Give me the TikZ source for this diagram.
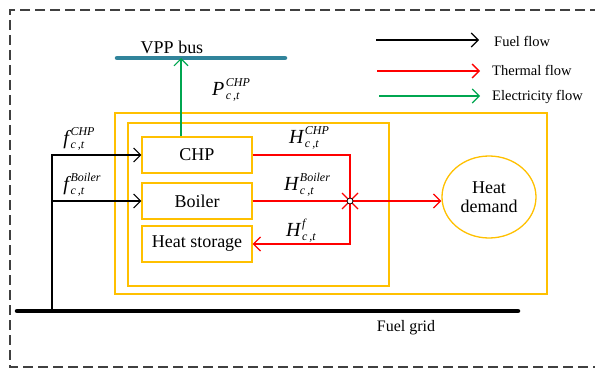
\documentclass[tikz,border=0pt]{standalone}
\usepackage{fontspec}
\setmainfont{Liberation Serif}
\usetikzlibrary{arrows.meta,shapes.geometric}
\definecolor{unityellow}{RGB}{255,192,0}
\definecolor{busteal}{RGB}{49,132,155}
\definecolor{elecgreen}{RGB}{0,166,80}
% variable with stacked sub- and superscript
\newcommand{\varlbl}[3]{\itshape #1\kern1.5pt\raisebox{-4pt}{\fontsize{12}{12}\selectfont
    \begin{tabular}[b]{@{}l@{}}#3\\[1pt]#2\end{tabular}}}
\begin{document}
\begin{tikzpicture}[
    x=1pt, y=-1pt,
    unit/.style={
        rectangle,
        minimum width=110pt,
        minimum height=36pt,
        inner sep=0pt,
        draw=unityellow,
        line width=1.3pt,
        font=\fontsize{18}{20}\selectfont
    },
    fuel/.style={draw=black, line width=1.1pt, -{Straight Barb[length=7pt,width=14pt]}},
    heat/.style={draw=red, line width=1.3pt, -{Straight Barb[length=7pt,width=14pt]}},
    elec/.style={draw=elecgreen, line width=1.1pt, -{Straight Barb[length=7pt,width=14pt]}},
    lbl/.style={font=\fontsize{18}{20}\selectfont, inner sep=0pt},
    varl/.style={font=\fontsize{20}{22}\selectfont, inner sep=0pt},
    legtext/.style={anchor=west, font=\fontsize{14.5}{16}\selectfont, inner sep=0pt}
]
\useasboundingbox (0,0) rectangle (595,369);

% Border
\draw[black!75, line width=1.2pt, dash pattern=on 10pt off 5pt]
    (600,10) -- (10,10) -- (10,367) -- (600,367);

% Yellow frames
\draw[unityellow, line width=1.3pt] (115,113) rectangle (547,294);
\draw[unityellow, line width=1.3pt] (128,123) rectangle (389,286);

% Units
\node[unit] (chp) at (197,155) {CHP};
\node[unit] (boiler) at (197,201) {Boiler};
\node[unit] (storage) at (197,244) {Heat storage};
\node[ellipse, draw=unityellow, line width=1.3pt, minimum width=94pt, minimum height=82pt,
      align=center, inner sep=0pt, font=\fontsize{18}{19}\selectfont] (demand) at (489,197) {Heat\\demand};

% VPP bus
\coordinate (busl) at (117,58);
\coordinate (busr) at (285,58);
\draw[busteal, line width=4.5pt, line cap=round] (busl) -- (busr);
\node[lbl] (buslbl) at (172,47) {VPP bus};
\draw[elec] ([xshift=-16pt]chp.north) -- ([xshift=-16pt]chp.north |- busl);
\node[varl] (plbl) at (231,91) {\varlbl{P}{c\,,t}{CHP}};

% Fuel grid
\coordinate (gridl) at (17,311);
\coordinate (gridr) at (518,311);
\coordinate (tap) at (52,311);
\draw[black, line width=4.5pt, line cap=round] (gridl) -- (gridr);
\node[lbl, font=\fontsize{16}{18}\selectfont] (gridlbl) at (406,328) {Fuel grid};
\draw[fuel] (tap) |- (chp.west);
\draw[fuel] (tap |- boiler.west) -- (boiler.west);
\node[varl] (fchp) at (79,140) {\varlbl{f}{c\,,t}{CHP}};
\node[varl] (fboiler) at (82,186) {\varlbl{f}{c\,,t}{Boiler}};

% Heat flows
\coordinate (mix) at (350,201);
\draw[heat] (chp.east) -| (mix |- storage.east) -- (storage.east);
\draw[heat, -] (boiler.east) -- (mix);
\draw[heat] (mix) -- (mix -| demand.west);
\draw[red, line width=1.1pt] ([shift={(-8,-8)}]mix) -- ([shift={(8,8)}]mix);
\draw[red, line width=1.1pt] ([shift={(-8,8)}]mix) -- ([shift={(8,-8)}]mix);
\draw[black, fill=white, line width=0.8pt] (mix) circle (3pt);
\node[varl] (hchp) at (309,139) {\varlbl{H}{c\,,t}{CHP}};
\node[varl] (hboiler) at (307,186) {\varlbl{H}{c\,,t}{Boiler}};
\node[varl] (hstore) at (301,232) {\varlbl{H}{c\,,t}{f}};

% Legend
\coordinate (fuela) at (376,40);
\coordinate (fuelb) at (479,40);
\coordinate (heata) at (377,71);
\coordinate (heatb) at (480,71);
\coordinate (eleca) at (379,96);
\coordinate (elecb) at (480,96);
\draw[fuel] (fuela) -- (fuelb);
\draw[heat] (heata) -- (heatb);
\draw[elec] (eleca) -- (elecb);
\node[legtext] (fuelleg) at (494,41) {Fuel flow};
\node[legtext] (heatleg) at (492,70) {Thermal flow};
\node[legtext] (elecleg) at (492,97) {Electricity flow};

\end{tikzpicture}
\end{document}
